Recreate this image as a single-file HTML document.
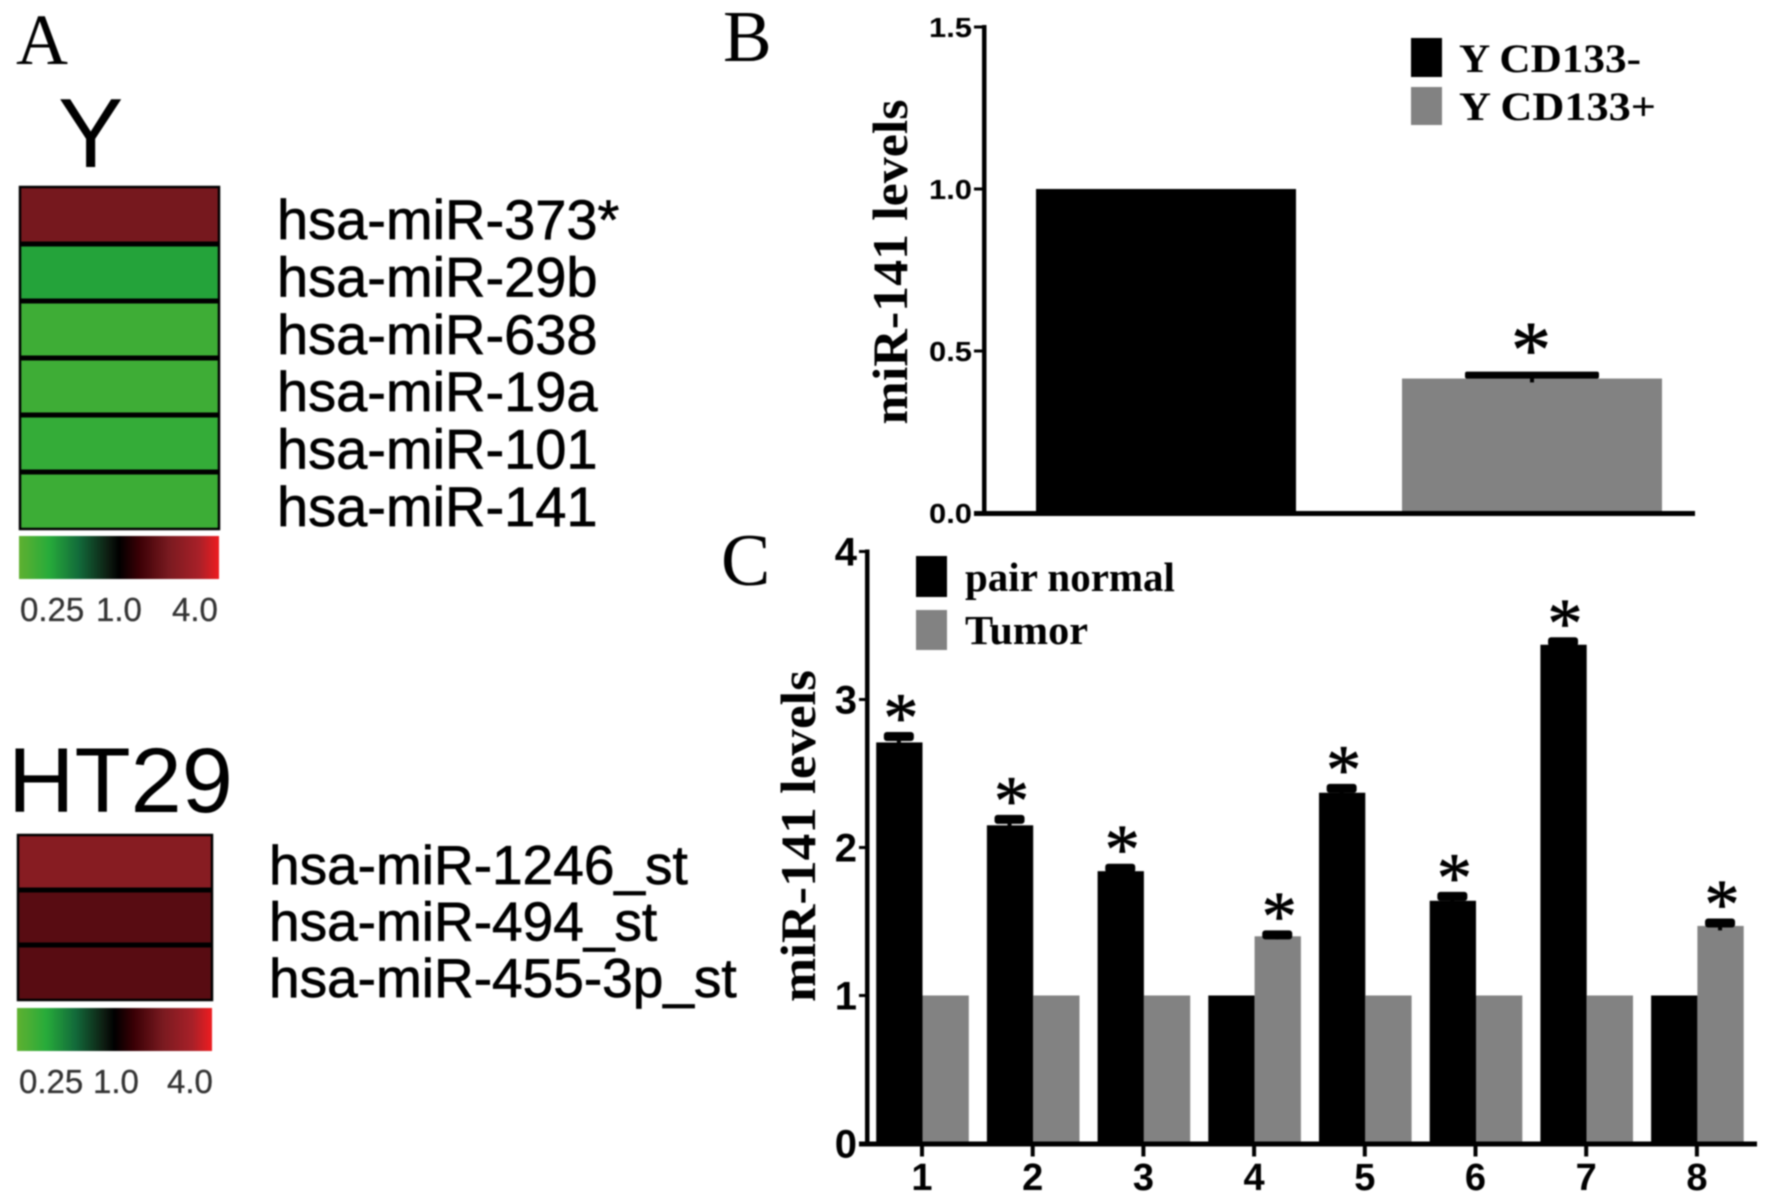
<!DOCTYPE html>
<html lang="en">
<head>
<meta charset="utf-8">
<title>miR-141 levels figure</title>
<style>
html,body{margin:0;padding:0;background:#fff;width:1772px;height:1204px;overflow:hidden}
#figure{display:block;filter:blur(0.7px)}
.serif{font-family:"Liberation Serif",serif}
.sans{font-family:"Liberation Sans",sans-serif}
</style>
</head>
<body>
<svg id="figure" xmlns="http://www.w3.org/2000/svg" width="1772" height="1204" viewBox="0 0 1772 1204">
  <rect width="1772" height="1204" fill="#fff"/>
  <text class="serif" x="16" y="64" font-size="72" fill="#000">A</text>
  <text class="serif" x="723" y="61" font-size="73" fill="#000">B</text>
  <text class="serif" x="721" y="585" font-size="74" fill="#000">C</text>
  <text class="sans" x="58" y="167" font-size="98" fill="#000">Y</text>
  <text class="sans" x="8" y="812" font-size="92" fill="#000">HT29</text>
  <g id="heatY"></g>
  <g id="heatHT"></g>
  <g id="chartB"></g>
  <g id="chartC"></g>
  <text class="serif" font-weight="bold" font-size="50" fill="#000" transform="translate(907,262) rotate(-90)" text-anchor="middle" textLength="325" lengthAdjust="spacingAndGlyphs">miR-141 levels</text>
  <text class="serif" font-weight="bold" font-size="50" fill="#000" transform="translate(815,836) rotate(-90)" text-anchor="middle" textLength="332" lengthAdjust="spacingAndGlyphs">miR-141 levels</text>
  <g>
    <rect x="1411" y="38" width="31" height="39" fill="#000"/>
    <rect x="1411" y="87" width="31" height="38" fill="#828282"/>
    <text class="serif" font-weight="bold" x="1459" y="72" font-size="40" textLength="182" lengthAdjust="spacingAndGlyphs">Y CD133-</text>
    <text class="serif" font-weight="bold" x="1459" y="120" font-size="40" textLength="197" lengthAdjust="spacingAndGlyphs">Y CD133+</text>
  </g>
  <g>
    <rect x="916" y="556" width="31" height="41" fill="#000"/>
    <rect x="916" y="610" width="31" height="40" fill="#828282"/>
    <text class="serif" font-weight="bold" x="965" y="591" font-size="41">pair normal</text>
    <text class="serif" font-weight="bold" x="965" y="644" font-size="41" textLength="123" lengthAdjust="spacingAndGlyphs">Tumor</text>
  </g>
</svg>
<script>
// Heatmap data (fold change)
const heatYLabels = ['hsa-miR-373*','hsa-miR-29b','hsa-miR-638','hsa-miR-19a','hsa-miR-101','hsa-miR-141'];
const heatYValues = [1.95,0.40,0.32,0.32,0.345,0.325];
const heatHTLabels = ['hsa-miR-1246_st','hsa-miR-494_st','hsa-miR-455-3p_st'];
const heatHTValues = [2.25,1.6,1.6];
const colorbarTicks = ['0.25','1.0','4.0'];
// Chart B data
const bCategories = ['Y CD133-','Y CD133+'];
const bValues = [1.0,0.415];
const bErrors = [0,0.012];
const bTicks = ['0.0','0.5','1.0','1.5'];
// Chart C data
const cCategories = ['1','2','3','4','5','6','7','8'];
const cNormal = [2.71,2.15,1.84,1,2.37,1.64,3.37,1];
const cTumor = [1,1,1,1.40,1,1,1,1.47];
const cNormalErr = [0.05,0.05,0.03,0,0.04,0.04,0.03,0];
const cTumorErr = [0,0,0,0.02,0,0,0,0.03];
const cTicks = ['0','1','2','3','4'];

const NS = 'http://www.w3.org/2000/svg';
function mk(parent, tag, attrs, text) {
  const el = document.createElementNS(NS, tag);
  for (const k in attrs) el.setAttribute(k, attrs[k]);
  if (text !== undefined) el.textContent = text;
  parent.appendChild(el);
  return el;
}

// Colour scale
const scaleStops = [[0,[95,176,48]],[0.15,[39,171,58]],[0.3,[18,106,58]],[0.45,[13,26,16]],[0.5,[0,0,0]],[0.6,[58,0,5]],[0.75,[122,26,32]],[0.9,[168,32,40]],[1,[238,28,32]]];
function stopColor(t) {
  for (let i = 1; i < scaleStops.length; i++) {
    if (t <= scaleStops[i][0]) {
      const a = scaleStops[i-1], b = scaleStops[i], f = (t-a[0])/(b[0]-a[0]);
      return 'rgb(' + a[1].map((c,j)=>Math.round(c+(b[1][j]-c)*f)).join(',') + ')';
    }
  }
  return 'rgb(238,28,32)';
}
function foldColor(v) {
  return stopColor(Math.max(0, Math.min(1, (Math.log2(v)+2)/4)));
}

// Gradient definition
const defs = mk(document.getElementById('figure'), 'defs', {});
const grad = mk(defs, 'linearGradient', {id:'scaleGrad', x1:0, x2:1, y1:0, y2:0});
scaleStops.forEach(s => {
  mk(grad, 'stop', {offset:s[0], 'stop-color':'rgb('+s[1].join(',')+')'});
});

function drawHeat(host, labels, values, g) {
  const rowH = g.h / values.length;
  values.forEach((v, i) => {
    const cell = mk(host, 'rect', {x:g.x, y:g.y+i*rowH, width:g.w, height:rowH, fill:foldColor(v)});
    
    
    const label = mk(host, 'text', {x:g.labelX, y:g.y+g.labelOff+i*g.labelStep, 'font-size':g.fs, 'font-family':'"Liberation Sans",sans-serif', fill:'#000', stroke:'#000', 'stroke-width':0.7}, labels[i]);
    
    
  });
  for (let i = 1; i < values.length; i++) {
    const sep = mk(host, 'rect', {x:g.x, y:g.y+i*rowH-g.sepW/2, width:g.w, height:g.sepW, fill:'#000'});
    
    
  }
  const frame = mk(host, 'rect', {x:g.x, y:g.y, width:g.w, height:g.h, fill:'none', stroke:'#000', 'stroke-width':2.5});
  
  
  const bar = mk(host, 'rect', {x:g.x-1, y:g.barY, width:g.w+1, height:g.barH, fill:'url(#scaleGrad)'});
  
  
  colorbarTicks.forEach((t, i) => {
    const tx = mk(host, 'text', {x:g.x+g.tickX[i], y:g.tickY, 'font-size':33, 'font-family':'"Liberation Sans",sans-serif', fill:'#333', stroke:'#333', 'stroke-width':0.3}, t);
    
    
  });
}
drawHeat(document.getElementById('heatY'), heatYLabels, heatYValues, {x:20,y:187,w:199,h:342,sepW:5,labelX:277,labelOff:52,labelStep:57.4,fs:56,barY:536,barH:43,tickX:[0,76,152],tickY:621});
drawHeat(document.getElementById('heatHT'), heatHTLabels, heatHTValues, {x:18,y:835,w:194,h:165,sepW:5,labelX:269,labelOff:49,labelStep:56.5,fs:55,barY:1008,barH:43,tickX:[1,75,149],tickY:1093});

// Chart B
const gB = document.getElementById('chartB');
const yB = v => 513 - v*324;
const xB = i => 1166 + i*366;
const bw = 260;
bValues.forEach((v, i) => {
  const bar = mk(gB, 'rect', {x:xB(i)-bw/2, y:yB(v), width:bw, height:yB(0)-yB(v), fill:i===0?'#000':'#828282'});
  
  
  if (bErrors[i] > 0) {
    const stem = mk(gB, 'rect', {x:xB(i)-2, y:yB(v+bErrors[i]), width:4, height:yB(v-bErrors[i])-yB(v+bErrors[i]), fill:'#000'});
    
    
    const cap = mk(gB, 'rect', {x:xB(i)-67, y:yB(v+bErrors[i])-3, width:134, height:7, rx:2, fill:'#000'});
    
    
    const star = mk(gB, 'text', {x:xB(i)-1, y:yB(v+bErrors[i])+2, 'font-size':80, 'text-anchor':'middle', 'font-family':'"Liberation Serif",serif', fill:'#000', stroke:'#000', 'stroke-width':0.8}, '*');
    
    
  }
});
const axBY = mk(gB, 'rect', {x:982, y:yB(1.5)-2, width:4.5, height:yB(0)-yB(1.5)+4, fill:'#000'});


const axBX = mk(gB, 'rect', {x:974, y:yB(0)-2, width:721, height:5, fill:'#000'});


bTicks.forEach(t => {
  const v = parseFloat(t);
  const tk = mk(gB, 'rect', {x:974, y:yB(v)-1.5, width:10, height:3, fill:'#000'});
  
  
  const lb = mk(gB, 'text', {x:972, y:yB(v)+10, 'font-size':28, 'font-weight':'bold', 'text-anchor':'end', 'font-family':'"Liberation Sans",sans-serif', fill:'#000', textLength:43, lengthAdjust:'spacingAndGlyphs'}, t);
  
  
});

// Chart C
const gC = document.getElementById('chartC');
const yC = v => 1143.5 - v*148;
const xC = i => 922 + i*110.7;
const cw = 46.3;
cCategories.forEach((c, i) => {
  const n = mk(gC, 'rect', {x:xC(i)-cw+0.5, y:yC(cNormal[i]), width:cw, height:yC(0)-yC(cNormal[i]), fill:'#000'});
  
  
  const t = mk(gC, 'rect', {x:xC(i)+0.5, y:yC(cTumor[i]), width:cw, height:yC(0)-yC(cTumor[i]), fill:'#828282'});
  
  
  let top = null, cx = 0, base = 0;
  if (cNormalErr[i] > 0) { top = cNormal[i] + cNormalErr[i]; base = cNormal[i]; cx = xC(i) - cw/2; }
  if (cTumorErr[i] > 0) { top = cTumor[i] + cTumorErr[i]; base = cTumor[i]; cx = xC(i) + cw/2; }
  if (top !== null) {
    const stem = mk(gC, 'rect', {x:cx-2, y:yC(top), width:4, height:yC(base-(top-base))-yC(top), fill:'#000'});
    
    
    const cap = mk(gC, 'rect', {x:cx-15, y:yC(top)-3, width:30, height:9, rx:3, fill:'#000'});
    
    
    const star = mk(gC, 'text', {x:cx+2, y:yC(top)+6, 'font-size':70, 'text-anchor':'middle', 'font-family':'"Liberation Serif",serif', fill:'#000', stroke:'#000', 'stroke-width':0.8}, '*');
    
    
  }
  const tk = mk(gC, 'rect', {x:xC(i)-2, y:yC(0), width:4, height:13, fill:'#000'});
  
  
  const lb = mk(gC, 'text', {x:xC(i), y:1190, 'font-size':38, 'font-weight':'bold', 'text-anchor':'middle', 'font-family':'"Liberation Sans",sans-serif', fill:'#000'}, c);
  
  
});
const axCY = mk(gC, 'rect', {x:865, y:yC(4)-2, width:4.5, height:yC(0)-yC(4)+4, fill:'#000'});


const axCX = mk(gC, 'rect', {x:859, y:yC(0)-2, width:898, height:5, fill:'#000'});


cTicks.forEach(t => {
  const v = parseFloat(t);
  const tk = mk(gC, 'rect', {x:859, y:yC(v)-1.5, width:8, height:3, fill:'#000'});
  
  
  const lb = mk(gC, 'text', {x:857, y:yC(v)+14, 'font-size':40, 'font-weight':'bold', 'text-anchor':'end', 'font-family':'"Liberation Sans",sans-serif', fill:'#000'}, t);
  
  
});
</script>
</body>
</html>
